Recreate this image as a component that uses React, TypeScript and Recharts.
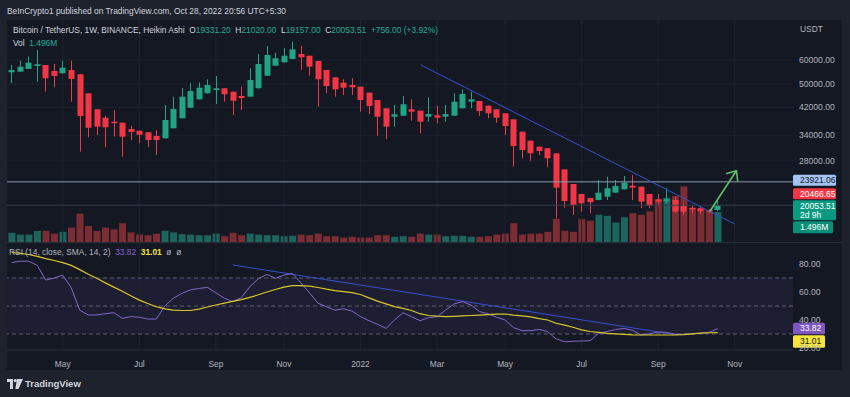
import React from "react"
import { Bar, Cell, ComposedChart, Line, ReferenceArea, ReferenceLine, XAxis, YAxis } from "recharts"

// weekly Heikin Ashi candles, BTC/USDT, Mar 2021 -> Oct 2022
const opens = [
  54690, 54940, 56070, 57350, 57780, 55230, 54280, 55640, 53870, 46670,
  41360, 38820, 37670, 37380, 35640, 35190, 34770, 33810, 33230, 35830,
  38650, 41870, 44600, 46670, 47840, 48470, 47240, 45730, 45490, 48470,
  53300, 57480, 58980, 60460, 62770, 61990, 59560, 55640, 52660, 50560,
  49680, 49050, 46880, 44360, 41680, 39110, 39410, 41360, 40930, 39110,
  39520, 39110, 39410, 41680, 43800, 44030, 42500, 41360, 40130, 38350,
  34920, 32630, 31190, 30820, 29670, 26290, 23540, 21830, 21180, 20860,
  21390, 22040, 22610, 23240, 23060, 21830, 20970, 20660, 20860, 19940,
  19680, 19590, 19340, 19331.2,
]
const highs = [
  57780, 59690, 61520, 64700, 57800, 58220, 59690, 59690, 53900, 46700,
  41400, 39320, 41140, 37400, 36540, 35200, 34800, 35370, 42720, 45490,
  48580, 50330, 50710, 51870, 53180, 48500, 47250, 49050, 56370, 62770,
  66670, 63410, 65550, 68900, 66840, 62000, 59600, 55650, 52700, 51870,
  52270, 49100, 46900, 44400, 41700, 42720, 45730, 44600, 40950, 45280,
  42500, 42720, 46670, 48100, 47240, 44050, 42520, 41380, 40150, 38400,
  34950, 32650, 31200, 30850, 29700, 26300, 23550, 21850, 21200, 24250,
  24870, 24250, 25000, 25190, 23080, 21850, 21830, 22790, 21390, 20350,
  20090, 19840, 19440, 21020,
]
const lows = [
  50440, 54900, 56000, 50940, 47240, 48830, 54200, 43800, 30040, 33480,
  34060, 31050, 33630, 28920, 32800, 32000, 31050, 29290, 33200, 35800,
  38600, 41800, 44550, 46600, 43050, 43800, 39610, 41140, 45400, 48400,
  53250, 57400, 58900, 60400, 55640, 53300, 42180, 46670, 45490, 46070,
  46070, 40620, 39900, 33880, 32980, 36270, 39350, 37950, 34510, 37670,
  37210, 37670, 39350, 41600, 41680, 39320, 38650, 37380, 34060, 26820,
  28570, 28050, 29290, 26700, 18160, 19680, 18620, 19100, 18860, 20830,
  20860, 22000, 22580, 20860, 19600, 19600, 19840, 20350, 18860, 18620,
  18860, 18860, 18860, 19157,
]
const closes = [
  55640, 57050, 58800, 58090, 52270, 53180, 56620, 51990, 39320, 35990,
  36270, 36100, 37210, 33630, 34850, 34140, 32800, 32800, 38150, 41460,
  45490, 47490, 48690, 49680, 48470, 46320, 44130, 45040, 51590, 58220,
  62310, 60790, 61990, 65050, 61250, 57050, 51870, 49310, 48100, 48690,
  48830, 44360, 42400, 39110, 36270, 39820, 42950, 40620, 37670, 39910,
  38820, 39910, 43800, 46420, 44600, 40830, 40130, 38820, 36460, 31360,
  30420, 29670, 30190, 28570, 22890, 20700, 20090, 20350, 20510, 22040,
  22790, 23190, 23770, 22890, 20600, 19940, 20600, 20970, 19100, 19100,
  19440, 19200, 19100, 20053.51,
]
// volume, millions
const volumes = [
  0.46, 0.37, 0.37, 0.55, 0.56, 0.42, 0.51, 0.72, 1.42, 0.8,
  0.55, 0.72, 0.63, 0.94, 0.48, 0.37, 0.34, 0.41, 0.56, 0.48,
  0.39, 0.37, 0.34, 0.34, 0.42, 0.29, 0.46, 0.34, 0.42, 0.37,
  0.34, 0.34, 0.29, 0.31, 0.37, 0.34, 0.42, 0.29, 0.29, 0.22,
  0.26, 0.22, 0.22, 0.34, 0.34, 0.26, 0.29, 0.26, 0.42, 0.37,
  0.37, 0.29, 0.31, 0.31, 0.26, 0.26, 0.29, 0.37, 0.42, 0.94,
  0.37, 0.42, 0.42, 0.51, 1.16, 0.56, 0.51, 1.14, 1.06, 1.36,
  1.31, 0.97, 1.24, 1.44, 1.36, 1.53, 2.13, 2.21, 2.3, 2.78,
  1.7, 1.67, 1.53, 1.496,
]
const rsi = [
  81, 82, 82, 79, 68.5, 70, 72, 63, 47, 43.6,
  43.6, 44.5, 45.2, 41.2, 42.4, 42, 40.7, 40.7, 50, 55.5,
  59, 61.5, 62.5, 63.3, 59.5, 55.5, 53.2, 56, 63.8, 69.5,
  72.6, 69.8, 72, 73.3, 66.5, 59.5, 52, 49.5, 47, 48,
  46.5, 42.4, 39.5, 37, 34, 40, 45.2, 42.4, 39.5, 41.7,
  42.3, 47, 51.5, 53.1, 50.7, 46, 44.4, 42, 40, 34.5,
  32.4, 32.4, 33.3, 31.7, 26.5, 24.5, 24.8, 25, 25.2, 30.5,
  31.8, 33.2, 34, 32.6, 29.3, 30.2, 31.4, 31.2, 29.8, 29.8,
  30.1, 30.5, 31.2, 33.82,
]
const rsiSma = [
  88.4, 87.6, 86.8, 85.5, 83.8, 82.5, 81, 79, 76, 72.7,
  69.8, 66.5, 63.5, 60.5, 57.3, 54.2, 51.8, 49.5, 48, 47.1,
  46.8, 46.8, 47.8, 49.3, 50.7, 52, 53.3, 54.5, 56.2, 58,
  60, 61.8, 63.5, 64.5, 64.5, 64.2, 63.2, 62, 61, 60.2,
  59.5, 58.2, 55.8, 53.5, 51.5, 49.6, 48.3, 46.8, 44.5, 43.2,
  42.7, 42.4, 42.6, 42.9, 43.2, 43.5, 43.9, 44.2, 44.3, 43.5,
  42.9, 42.2, 41, 40, 37.7, 36.3, 34.8, 33, 31.8, 31.1,
  30.5, 30.1, 29.7, 29.4, 29.3, 29.3, 29.3, 29.3, 29.3, 29.6,
  30.1, 30.6, 30.9, 31.01,
]

const monthTicks = [6, 15, 24, 32, 41, 50, 58, 67, 76, 85]
const monthLabels = ["May", "Jul", "Sep", "Nov", "2022", "Mar", "May", "Jul", "Sep", "Nov"]
const priceTicks = [28000, 34000, 42000, 50000, 60000]
const rsiTicks = [20, 40, 60, 80]

// drawings (bar index, value)
const priceTrend = [{ x: 48.1, y: 57780 }, { x: 85.0, y: 17400 }]
const arrowPts = [{ x: 82.1, y: 19200 }, { x: 85.2, y: 26010 }]
const rsiTrend = [{ x: 26.0, y: 79.3 }, { x: 78.3, y: 29.3 }]
const hLine = 23921.06
const lastPrice = 20053.51

const FONT = '"Liberation Sans", Arial, sans-serif'
const OUTER = "#1e222d"
const PANEL = "#141823"
const GRID = "#1f2330"
const UP = "#22a383"
const DOWN = "#f23645"
const VOL_UP = "#1c655d"
const VOL_DOWN = "#7c2c33"
const AXIS_TXT = "#b2b5be"
const BLUE = "#3550cf"

const X_DOMAIN: [number, number] = [-0.553, 91.85]
const P_DOMAIN: [number, number] = [15190, 81150]

const rows = opens.map((o, i) => ({
  i,
  o,
  h: highs[i],
  l: lows[i],
  c: closes[i],
  range: [lows[i], highs[i]],
  vol: volumes[i],
  rsi: rsi[i],
  sma: rsiSma[i],
}))

function Candle(props: any) {
  let { x, y, width, height, payload } = props
  if (height == null || !payload) return null
  if (height < 0) {
    y = y + height
    height = -height
  }
  const { o, h, l, c } = payload
  const span = Math.log(h) - Math.log(l)
  const yAt = (v: number) => y + (height * (Math.log(h) - Math.log(v))) / span
  const color = c >= o ? UP : DOWN
  const cx = Math.round(x + width / 2) + 0.5
  const top = yAt(Math.max(o, c))
  const bot = yAt(Math.min(o, c))
  return (
    <g>
      <line x1={cx} x2={cx} y1={y} y2={y + height} stroke={color} strokeWidth={1} />
      <rect x={cx - width / 2} y={top} width={width} height={Math.max(1.2, bot - top)} fill={color} />
    </g>
  )
}

function Arrow(props: any) {
  const { x1, y1, x2, y2 } = props
  const a = Math.atan2(y1 - y2, x1 - x2)
  const len = 10
  const w1 = a + 0.7
  const w2 = a - 0.7
  return (
    <g stroke="#5fbf6a" strokeWidth={1.6} fill="none" strokeLinecap="round">
      <line x1={x1} y1={y1} x2={x2} y2={y2} />
      <line x1={x2} y1={y2} x2={x2 + len * Math.cos(w1)} y2={y2 + len * Math.sin(w1)} />
      <line x1={x2} y1={y2} x2={x2 + len * Math.cos(w2)} y2={y2 + len * Math.sin(w2)} />
    </g>
  )
}

function Badge({ x, top, h, w, fill, color, lines }: any) {
  return (
    <g>
      <rect x={x} y={top} width={w} height={h} fill={fill} rx={1.5} />
      {lines.map((t: string, k: number) => (
        <text key={k} x={x + 7} y={top + 8.6 + k * 9.5} fill={color} fontSize={8.5} fontFamily={FONT}>
          {t}
        </text>
      ))}
    </g>
  )
}

const txt = (left: number, top: number, children: React.ReactNode, extra: any = {}) => (
  <div style={{ position: "absolute", left, top, fontSize: 8.4, lineHeight: "10px", whiteSpace: "nowrap", color: "#d1d4dc", ...extra }}>
    {children}
  </div>
)

export default function App() {
  const g = "#22ab94"
  return (
    <div style={{ position: "absolute", left: 0, top: 0, width: 850, height: 397, background: OUTER, fontFamily: FONT, overflow: "hidden" }}>
      {txt(7, 6, "BeInCrypto1 published on TradingView.com, Oct 28, 2022 20:56 UTC+5:30")}

      <div style={{ position: "absolute", left: 7, top: 20, width: 835, height: 350, background: PANEL }}>
        {/* grid + volume layer */}
        <div style={{ position: "absolute", left: 0, top: 0 }}>
          <ComposedChart width={835} height={222} data={rows} margin={{ top: 0, right: 49, bottom: 0, left: 0 }}>
            <XAxis type="number" dataKey="i" domain={X_DOMAIN} allowDataOverflow hide />
            <YAxis yAxisId="v" domain={[0, 11.1]} allowDataOverflow hide />
            <YAxis yAxisId="p" scale="log" domain={P_DOMAIN} allowDataOverflow hide />
            {priceTicks.map((t) => (
              <ReferenceLine key={"h" + t} yAxisId="p" y={t} stroke={GRID} />
            ))}
            {monthTicks.map((t) => (
              <ReferenceLine key={"v" + t} yAxisId="p" x={t} stroke={GRID} />
            ))}
            <Bar yAxisId="v" dataKey="vol" barSize={7} isAnimationActive={false}>
              {rows.map((r) => (
                <Cell key={r.i} fill={r.c >= r.o ? VOL_UP : VOL_DOWN} />
              ))}
            </Bar>
          </ComposedChart>
        </div>

        {/* candles layer */}
        <div style={{ position: "absolute", left: 0, top: 0 }}>
          <ComposedChart width={835} height={222} data={rows} margin={{ top: 0, right: 0, bottom: 0, left: 0 }}>
            <XAxis type="number" dataKey="i" domain={X_DOMAIN} allowDataOverflow hide />
            <YAxis
              orientation="right"
              scale="log"
              domain={P_DOMAIN}
              allowDataOverflow
              ticks={priceTicks}
              width={49}
              axisLine={false}
              tickLine={false}
              tickSize={0}
              tickMargin={6}
              tick={{ fill: AXIS_TXT, fontSize: 8.6, fontFamily: FONT, textAnchor: "start" }}
              tickFormatter={(v) => Number(v).toFixed(2)}
            />
            <ReferenceLine y={lastPrice} stroke="#363c4c" />
            <ReferenceLine
              y={hLine}
              stroke="#8e9bb3"
              label={(p: any) => {
                const vb = p.viewBox
                return <Badge x={vb.x + vb.width} top={vb.y - 7} h={11} w={43} fill="#a4c4f4" color="#131722" lines={[hLine.toFixed(2)]} />
              }}
            />
            <ReferenceLine segment={priceTrend} stroke={BLUE} strokeWidth={1} />
            <Bar dataKey="range" barSize={6} isAnimationActive={false} shape={(p: any) => <Candle {...p} />} />
            <ReferenceLine segment={arrowPts} shape={(p: any) => <Arrow {...p} />} />
            <ReferenceLine
              y={lastPrice}
              stroke="none"
              label={(p: any) => {
                const vb = p.viewBox
                const x = vb.x + vb.width
                return (
                  <g>
                    <Badge x={x} top={vb.y - 17} h={11} w={43} fill={DOWN} color="#fff" lines={["20466.65"]} />
                    <Badge x={x} top={vb.y - 5} h={20} w={43} fill="#089981" color="#fff" lines={[lastPrice.toFixed(2), "2d 9h"]} />
                    <Badge x={x} top={vb.y + 16} h={12} w={40} fill="#0b8f78" color="#fff" lines={["1.496M"]} />
                  </g>
                )
              }}
            />
          </ComposedChart>
        </div>

        {txt(6, 5, (
          <span>
            Bitcoin / TetherUS, 1W, BINANCE, Heikin Ashi&nbsp;&nbsp;O<span style={{ color: g }}>19331.20</span>&nbsp;&nbsp;H
            <span style={{ color: g }}>21020.00</span>&nbsp;&nbsp;L<span style={{ color: g }}>19157.00</span>&nbsp;&nbsp;C
            <span style={{ color: g }}>20053.51</span>&nbsp;&nbsp;<span style={{ color: g }}>+756.00 (+3.92%)</span>
          </span>
        ))}
        {txt(6, 18, (
          <span>
            Vol&nbsp;&nbsp;<span style={{ color: g }}>1.496M</span>
          </span>
        ))}
        {txt(793, 4, "USDT", { color: AXIS_TXT })}

        <div style={{ position: "absolute", left: 0, top: 222, width: 835, height: 1, background: "#2a2e39" }} />

        {/* RSI pane */}
        <div style={{ position: "absolute", left: 0, top: 222 }}>
          <ComposedChart width={835} height={128} data={rows} margin={{ top: 1, right: 0, bottom: 0, left: 0 }}>
            <XAxis
              type="number"
              dataKey="i"
              domain={X_DOMAIN}
              allowDataOverflow
              ticks={monthTicks}
              height={20}
              axisLine={{ stroke: "#2a2e39" }}
              tickLine={false}
              tickSize={0}
              tickMargin={11}
              tick={{ fill: AXIS_TXT, fontSize: 8.4, fontFamily: FONT }}
              tickFormatter={(v) => monthLabels[monthTicks.indexOf(v)] ?? ""}
            />
            <YAxis
              orientation="right"
              domain={[18.57, 95]}
              allowDataOverflow
              ticks={rsiTicks}
              width={49}
              axisLine={false}
              tickLine={false}
              tickSize={0}
              tickMargin={6}
              tick={{ fill: AXIS_TXT, fontSize: 8.6, fontFamily: FONT, textAnchor: "start" }}
              tickFormatter={(v) => Number(v).toFixed(2)}
            />
            {monthTicks.map((t) => (
              <ReferenceLine key={"rv" + t} x={t} stroke={GRID} />
            ))}
            <ReferenceArea y1={30} y2={70} fill="#7e57c2" fillOpacity={0.1} stroke="none" />
            {[70, 50, 30].map((t) => (
              <ReferenceLine key={"rl" + t} y={t} stroke="#787b86" strokeOpacity={0.7} strokeDasharray="4 3" />
            ))}
            <ReferenceLine segment={rsiTrend} stroke={BLUE} strokeWidth={1} />
            <Line type="linear" dataKey="rsi" stroke="#8467cc" strokeWidth={1} dot={false} isAnimationActive={false} />
            <Line type="linear" dataKey="sma" stroke="#d9c62a" strokeWidth={1.2} dot={false} isAnimationActive={false} />
            <ReferenceLine
              y={33.82}
              stroke="none"
              label={(p: any) => {
                const vb = p.viewBox
                return <Badge x={vb.x + vb.width} top={vb.y - 6} h={11.5} w={32} fill="#7e57c2" color="#fff" lines={["33.82"]} />
              }}
            />
            <ReferenceLine
              y={31.01}
              stroke="none"
              label={(p: any) => {
                const vb = p.viewBox
                return <Badge x={vb.x + vb.width} top={vb.y + 2.6} h={12.5} w={32} fill="#f4e43c" color="#131722" lines={["31.01"]} />
              }}
            />
          </ComposedChart>
        </div>

        {txt(2, 227, (
          <span>
            RSI (14, close, SMA, 14, 2)&nbsp;&nbsp;<span style={{ color: "#8467cc" }}>33.82</span>&nbsp;&nbsp;
            <span style={{ color: "#f4e43c", fontWeight: "bold" }}>31.01</span>&nbsp;&nbsp;ø&nbsp;&nbsp;ø
          </span>
        ), { color: "#b2b5be" })}
      </div>

      {/* TradingView wordmark */}
      <svg style={{ position: "absolute", left: 7, top: 379 }} width={16} height={10} viewBox="0 0 16 10">
        <path d="M0 0h6v10h-3v-7h-3z" fill="#d1d4dc" />
        <circle cx={8.3} cy={1.6} r={1.6} fill="#d1d4dc" />
        <path d="M10 0h6l-4.5 10h-3.2z" fill="#d1d4dc" />
      </svg>
      {txt(25, 379, "TradingView", { fontSize: 9.5, fontWeight: "bold", color: "#d1d4dc" })}
    </div>
  )
}
